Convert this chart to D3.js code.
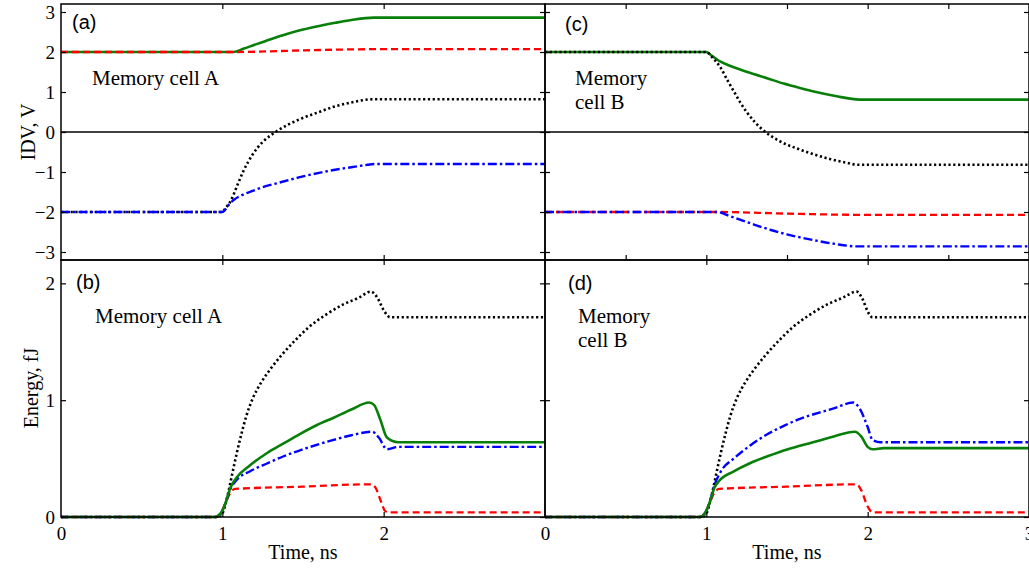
<!DOCTYPE html>
<html>
<head>
<meta charset="utf-8">
<script src="https://cdn.jsdelivr.net/npm/d3@7"></script>
<style>
  body { margin: 0; background: #fff; }
  svg { display: block; }
</style>
</head>
<body>
<div class="chart"></div>
<script>
// tick values
var timeTicksLabeled = [0, 1, 2, 3];
var voltTicks = [-3, -2, -1, 0, 1, 2, 3];
var energyTicks = [0, 1, 2];

// (a) memory cell A, IDV [time ns, V]
var aGreen = [[0, 2], [1.07, 2], [1.13, 2.08], [1.2, 2.18], [1.3, 2.32], [1.4, 2.45], [1.5, 2.56], [1.6, 2.65], [1.7, 2.73], [1.8, 2.8], [1.94, 2.86], [3, 2.86]];
var aRed = [[0, 2], [1.07, 2], [1.5, 2.04], [1.94, 2.07], [3, 2.07]];
var aBlack = [[0, -2], [1.0, -2], [1.02, -1.9], [1.05, -1.74], [1.09, -1.36], [1.13, -0.98], [1.19, -0.55], [1.25, -0.25], [1.33, 0], [1.48, 0.32], [1.6, 0.5], [1.69, 0.63], [1.8, 0.74], [1.94, 0.82], [3, 0.82]];
var aBlue = [[0, -2], [1.0, -2], [1.04, -1.82], [1.07, -1.7], [1.12, -1.58], [1.17, -1.5], [1.25, -1.38], [1.34, -1.28], [1.48, -1.13], [1.6, -1.02], [1.69, -0.95], [1.8, -0.88], [1.9, -0.82], [1.94, -0.8], [3, -0.8]];

// (c) memory cell B, IDV
var cGreen = [[0, 2], [1.0, 2], [1.03, 1.92], [1.07, 1.8], [1.12, 1.7], [1.17, 1.62], [1.27, 1.48], [1.38, 1.34], [1.48, 1.21], [1.58, 1.1], [1.68, 1.0], [1.8, 0.9], [1.95, 0.81], [3, 0.81]];
var cRed = [[0, -2], [1.07, -2], [1.5, -2.04], [1.94, -2.07], [3, -2.07]];
var cBlack = [[0, 2], [1.0, 2], [1.04, 1.85], [1.085, 1.63], [1.13, 1.3], [1.17, 1.02], [1.21, 0.74], [1.25, 0.5], [1.3, 0.25], [1.36, 0.02], [1.46, -0.24], [1.56, -0.41], [1.66, -0.55], [1.77, -0.68], [1.87, -0.77], [1.94, -0.82], [3, -0.82]];
var cBlue = [[0, -2], [1.07, -2], [1.13, -2.08], [1.2, -2.18], [1.3, -2.32], [1.4, -2.45], [1.5, -2.56], [1.6, -2.65], [1.7, -2.73], [1.8, -2.8], [1.94, -2.86], [3, -2.86]];

// (b) memory cell A, energy [time ns, fJ]
var bBlack = [[0, 0], [0.97, 0], [1.0, 0.03], [1.03, 0.17], [1.06, 0.36], [1.09, 0.55], [1.12, 0.72], [1.15, 0.87], [1.19, 1.02], [1.24, 1.15], [1.3, 1.27], [1.37, 1.39], [1.45, 1.51], [1.54, 1.63], [1.64, 1.73], [1.75, 1.82], [1.85, 1.88], [1.92, 1.93], [1.96, 1.88], [2.0, 1.77], [2.04, 1.71], [3, 1.71]];
var bRed = [[0, 0], [0.96, 0], [0.99, 0.03], [1.02, 0.12], [1.05, 0.21], [1.08, 0.24], [1.5, 0.26], [1.92, 0.28], [1.95, 0.25], [1.98, 0.145], [2.01, 0.05], [2.03, 0.04], [3, 0.04]];
var bBlue = [[0, 0], [0.96, 0], [0.99, 0.03], [1.02, 0.12], [1.05, 0.24], [1.09, 0.32], [1.17, 0.39], [1.28, 0.46], [1.38, 0.52], [1.48, 0.57], [1.59, 0.62], [1.69, 0.66], [1.8, 0.7], [1.93, 0.73], [1.97, 0.68], [2.02, 0.58], [2.09, 0.6], [3, 0.6]];
var bGreen = [[0, 0], [0.95, 0], [0.99, 0.03], [1.02, 0.12], [1.05, 0.25], [1.09, 0.34], [1.17, 0.44], [1.28, 0.55], [1.38, 0.63], [1.48, 0.71], [1.59, 0.79], [1.69, 0.85], [1.8, 0.92], [1.91, 0.98], [1.94, 0.96], [1.98, 0.83], [2.02, 0.68], [2.09, 0.64], [3, 0.64]];

// (d) memory cell B, energy
var dBlack = [[0, 0], [0.97, 0], [1.0, 0.03], [1.03, 0.17], [1.06, 0.36], [1.09, 0.55], [1.12, 0.72], [1.15, 0.87], [1.19, 1.02], [1.24, 1.15], [1.3, 1.27], [1.37, 1.39], [1.45, 1.51], [1.54, 1.63], [1.64, 1.73], [1.75, 1.82], [1.85, 1.88], [1.93, 1.93], [1.97, 1.86], [2.0, 1.76], [2.03, 1.71], [3, 1.71]];
var dRed = [[0, 0], [0.96, 0], [0.99, 0.03], [1.02, 0.12], [1.05, 0.21], [1.08, 0.24], [1.5, 0.26], [1.93, 0.28], [1.96, 0.23], [2.0, 0.09], [2.03, 0.04], [3, 0.04]];
var dGreen = [[0, 0], [0.96, 0], [0.99, 0.03], [1.02, 0.12], [1.05, 0.25], [1.08, 0.31], [1.17, 0.39], [1.27, 0.46], [1.38, 0.52], [1.48, 0.57], [1.58, 0.61], [1.69, 0.65], [1.79, 0.69], [1.92, 0.73], [1.96, 0.69], [2.0, 0.6], [2.03, 0.58], [2.1, 0.59], [3, 0.59]];
var dBlue = [[0, 0], [0.96, 0], [0.99, 0.03], [1.02, 0.12], [1.05, 0.27], [1.09, 0.39], [1.17, 0.5], [1.27, 0.61], [1.38, 0.71], [1.48, 0.78], [1.58, 0.84], [1.69, 0.89], [1.79, 0.93], [1.91, 0.98], [1.95, 0.93], [2.0, 0.77], [2.03, 0.66], [2.08, 0.64], [3, 0.64]];

var width = 1029;
var height = 570;

// line looks
var styles = {
  green: { color: "#087f08", width: 2.6, dash: null },
  red:   { color: "#ff0000", width: 2.3, dash: "7,4" },
  black: { color: "#000000", width: 2.6, dash: "2.2,2.6" },
  blue:  { color: "#0000ff", width: 2.4, dash: "9,3,2.5,3" }
};

var serif = "'Liberation Serif', 'Times New Roman', serif";
var sans = "'Liberation Sans', Arial, sans-serif";

var svg = d3.select("div.chart").append("svg").attr("width", width).attr("height", height);

var panels = [
  { xr: [61, 545], yd: [-3.2, 3.2], yr: [260, 4], xt: [1, 2], yt: voltTicks, zero: true,
    series: [[aGreen, "green"], [aBlack, "black"], [aRed, "red"], [aBlue, "blue"]],
    tag: "(a)", tagPos: [72, 29], text: ["Memory cell A"], textPos: [92, 85], yLabels: true },
  { xr: [545, 1029], yd: [-3.2, 3.2], yr: [260, 4], xt: [0.5, 1, 1.5, 2, 2.5], yt: voltTicks, zero: true,
    series: [[cGreen, "green"], [cBlack, "black"], [cRed, "red"], [cBlue, "blue"]],
    tag: "(c)", tagPos: [565, 31], text: ["Memory", "cell B"], textPos: [575, 85] },
  { xr: [61, 545], yd: [0, 2.2], yr: [517, 260], xt: [1, 2], yt: energyTicks,
    series: [[bBlack, "black"], [bRed, "red"], [bBlue, "blue"], [bGreen, "green"]],
    tag: "(b)", tagPos: [76, 289], text: ["Memory cell A"], textPos: [95, 323], yLabels: true, xLabels: [0, 1, 2] },
  { xr: [545, 1029], yd: [0, 2.2], yr: [517, 260], xt: [1, 2], yt: energyTicks,
    series: [[dBlack, "black"], [dRed, "red"], [dBlue, "blue"], [dGreen, "green"]],
    tag: "(d)", tagPos: [568, 290], text: ["Memory", "cell B"], textPos: [578, 323], xLabels: timeTicksLabeled }
];

function styleAxis(sel) {
  sel.select(".domain").remove();
  sel.selectAll(".tick line").attr("stroke", "#000").attr("stroke-width", 1.2);
  sel.attr("font-family", serif).attr("font-size", 19);
  sel.selectAll("text").attr("fill", "#000");
}

panels.forEach(function (p) {
  var xScale = d3.scaleLinear().domain([0, 3]).range(p.xr);
  var yScale = d3.scaleLinear().domain(p.yd).range(p.yr);
  var g = svg.append("g");

  // y = 0 line in the IDV panels
  if (p.zero) {
    g.append("line")
      .attr("x1", p.xr[0]).attr("x2", p.xr[1])
      .attr("y1", yScale(0)).attr("y2", yScale(0))
      .attr("stroke", "#000").attr("stroke-width", 1.3);
  }

  var line = d3.line()
    .x(function (d) { return xScale(d[0]); })
    .y(function (d) { return yScale(d[1]); })
    .curve(d3.curveMonotoneX);

  p.series.forEach(function (s) {
    var st = styles[s[1]];
    g.append("path")
      .datum(s[0])
      .attr("fill", "none")
      .attr("stroke", st.color)
      .attr("stroke-width", st.width)
      .attr("stroke-dasharray", st.dash)
      .attr("d", line);
  });

  // inward ticks on all four sides
  g.append("g").attr("transform", "translate(0," + p.yr[0] + ")")
    .call(d3.axisBottom(xScale).tickValues(p.xt).tickSize(-5).tickSizeOuter(0).tickFormat(""))
    .call(styleAxis);
  g.append("g").attr("transform", "translate(0," + p.yr[1] + ")")
    .call(d3.axisTop(xScale).tickValues(p.xt).tickSize(-5).tickSizeOuter(0).tickFormat(""))
    .call(styleAxis);
  g.append("g").attr("transform", "translate(" + p.xr[0] + ",0)")
    .call(d3.axisLeft(yScale).tickValues(p.yt).tickSize(-5).tickSizeOuter(0).tickPadding(6)
      .tickFormat(p.yLabels ? d3.format("d") : ""))
    .call(styleAxis);
  g.append("g").attr("transform", "translate(" + p.xr[1] + ",0)")
    .call(d3.axisRight(yScale).tickValues(p.yt).tickSize(-5).tickSizeOuter(0).tickFormat(""))
    .call(styleAxis);

  if (p.xLabels) {
    g.append("g").attr("transform", "translate(0," + p.yr[0] + ")")
      .call(d3.axisBottom(xScale).tickValues(p.xLabels).tickSize(0).tickSizeOuter(0).tickPadding(10)
        .tickFormat(d3.format("d")))
      .call(styleAxis);
  }

  // frame
  g.append("rect")
    .attr("x", p.xr[0]).attr("y", p.yr[1])
    .attr("width", p.xr[1] - p.xr[0]).attr("height", p.yr[0] - p.yr[1])
    .attr("fill", "none").attr("stroke", "#000").attr("stroke-width", 1.5);

  g.append("text")
    .attr("x", p.tagPos[0]).attr("y", p.tagPos[1])
    .attr("font-family", sans).attr("font-size", 20)
    .text(p.tag);

  p.text.forEach(function (t, i) {
    g.append("text")
      .attr("x", p.textPos[0]).attr("y", p.textPos[1] + i * 24)
      .attr("font-family", serif).attr("font-size", 21)
      .text(t);
  });

  if (p.xLabels) {
    g.append("text")
      .attr("x", (p.xr[0] + p.xr[1]) / 2).attr("y", 559)
      .attr("text-anchor", "middle")
      .attr("font-family", serif).attr("font-size", 20)
      .text("Time, ns");
  }
});

// y axis titles
svg.append("text")
  .attr("transform", "translate(35," + 132 + ") rotate(-90)")
  .attr("text-anchor", "middle")
  .attr("font-family", serif).attr("font-size", 20)
  .text("IDV, V");

svg.append("text")
  .attr("transform", "translate(38," + 388 + ") rotate(-90)")
  .attr("text-anchor", "middle")
  .attr("font-family", serif).attr("font-size", 20)
  .text("Energy, fJ");
</script>
</body>
</html>
